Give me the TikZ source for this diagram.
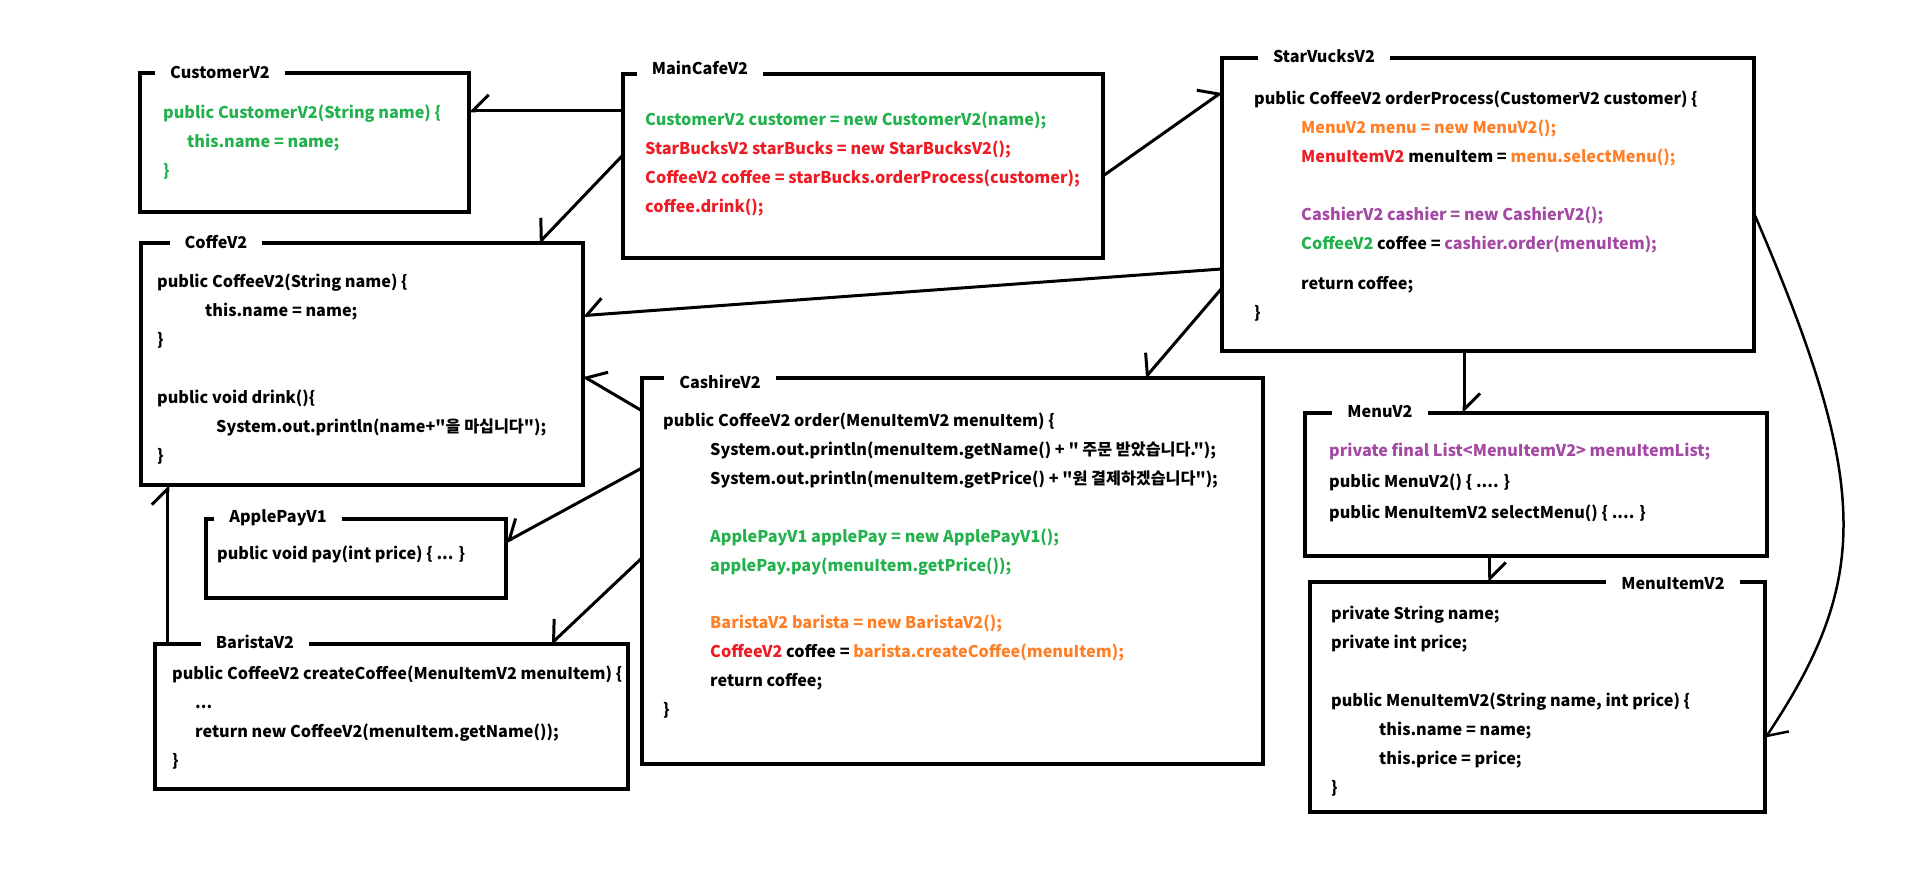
\documentclass[tikz,border=0pt]{standalone}
\usepackage{fontspec}
\setmainfont{Noto Sans CJK KR}[Ligatures=TeXOff]
\usetikzlibrary{arrows.meta,calc}

\definecolor{jgreen}{RGB}{34,177,76}
\definecolor{jred}{RGB}{237,28,36}
\definecolor{jorange}{RGB}{255,127,39}
\definecolor{jpurple}{RGB}{163,73,164}

\newcommand{\ind}[1][47pt]{\hspace*{#1}}
\newcommand{\codefont}{\fontsize{16.2}{29}\selectfont\bfseries}

\begin{document}
\begin{tikzpicture}[x=1pt, y=-1pt]
\tikzstyle{box}=[draw, line width=4.5pt, anchor=north west, inner sep=0pt, outer sep=0pt]
\tikzstyle{title}=[fill=white, inner xsep=15pt, inner ysep=3pt, text height=11pt, text depth=0pt, font=\codefont]
\tikzstyle{code}=[anchor=north west, inner sep=0pt, align=left, font=\codefont]
\tikzstyle{conn}=[line width=3pt, -{Straight Barb[harpoon,swap,length=16pt,width=32pt]}]
\tikzstyle{connl}=[line width=3pt, -{Straight Barb[harpoon,length=16pt,width=32pt]}]

\useasboundingbox (0,0) rectangle (1914,889);

% boxes
\node[box, minimum width=329pt, minimum height=139pt] (customer) at (140,73) {};
\node[box, minimum width=480pt, minimum height=184pt] (maincafe) at (623,74) {};
\node[box, minimum width=532pt, minimum height=293pt] (starvucks) at (1222,58) {};
\node[box, minimum width=442pt, minimum height=242pt] (coffe) at (141,243) {};
\node[box, minimum width=621pt, minimum height=386pt] (cashire) at (642,378) {};
\node[box, minimum width=300pt, minimum height=79pt] (applepay) at (206,519) {};
\node[box, minimum width=473pt, minimum height=145pt] (barista) at (155,644) {};
\node[box, minimum width=462pt, minimum height=143pt] (menu) at (1305,413) {};
\node[box, minimum width=455pt, minimum height=230pt] (menuitem) at (1310,582) {};

% titles
\node[title] (customer-t) at (220,73) {CustomerV2};
\node[title] (maincafe-t) at (700,69) {MainCafeV2};
\node[title] (starvucks-t) at (1324,57) {StarVucksV2};
\node[title] (coffe-t) at (216,243) {CoffeV2};
\node[title] (cashire-t) at (720,383) {CashireV2};
\node[title] (applepay-t) at (278,517) {ApplePayV1};
\node[title] (barista-t) at (255,643) {BaristaV2};
\node[title] (menu-t) at (1380,412) {MenuV2};
\node[title] (menuitem-t) at (1673,584) {MenuItemV2};

% code
\node[code, text=jgreen] (customer-c) at (163,105) {public CustomerV2(String name) \{\\
\ind[24pt]this.name = name;\\
\}};
\node[code] (maincafe-c) at (645,112) {\textcolor{jgreen}{CustomerV2 customer = new CustomerV2(name);}\\
\textcolor{jred}{StarBucksV2 starBucks = new StarBucksV2();}\\
\textcolor{jred}{CoffeeV2 coffee = starBucks.orderProcess(customer);}\\
\textcolor{jred}{coffee.drink();}};
\node[code] (starvucks-c) at (1254,91) {public CoffeeV2 orderProcess(CustomerV2 customer) \{\\
\ind\textcolor{jorange}{MenuV2 menu = new MenuV2();}\\
\ind\textcolor{jred}{MenuItemV2} menuItem = \textcolor{jorange}{menu.selectMenu();}\\[29pt]
\ind\textcolor{jpurple}{CashierV2 cashier = new CashierV2();}\\
\ind\textcolor{jgreen}{CoffeeV2} coffee = \textcolor{jpurple}{cashier.order(menuItem);}\\[11pt]
\ind return coffee;\\
\}};
\node[code] (coffe-c) at (157,274) {public CoffeeV2(String name) \{\\
\ind[48pt]this.name = name;\\
\}\\[29pt]
public void drink()\{\\
\ind[59pt]System.out.println(name+"을 마십니다");\\
\}};
\node[code] (cashire-c) at (663,413) {public CoffeeV2 order(MenuItemV2 menuItem) \{\\
\ind System.out.println(menuItem.getName() + " 주문 받았습니다.");\\
\ind System.out.println(menuItem.getPrice() + "원 결제하겠습니다");\\[29pt]
\ind\textcolor{jgreen}{ApplePayV1 applePay = new ApplePayV1();}\\
\ind\textcolor{jgreen}{applePay.pay(menuItem.getPrice());}\\[28pt]
\ind\textcolor{jorange}{BaristaV2 barista = new BaristaV2();}\\
\ind\textcolor{jred}{CoffeeV2} coffee = \textcolor{jorange}{barista.createCoffee(menuItem);}\\
\ind return coffee;\\
\}};
\node[code] (applepay-c) at (217,546) {public void pay(int price) \{ ... \}};
\node[code] (barista-c) at (172,666) {public CoffeeV2 createCoffee(MenuItemV2 menuItem) \{\\
\ind[23pt]...\\
\ind[23pt]return new CoffeeV2(menuItem.getName());\\
\}};
\node[code] (menu-c) at (1329,443) {\textcolor{jpurple}{private final List<MenuItemV2> menuItemList;}\\[2pt]
public MenuV2() \{ .... \}\\[2pt]
public MenuItemV2 selectMenu() \{ .... \}};
\node[code] (menuitem-c) at (1331,606) {private String name;\\
private int price;\\[29pt]
public MenuItemV2(String name, int price) \{\\
\ind[48pt]this.name = name;\\
\ind[48pt]this.price = price;\\
\}};

% connectors
\draw[conn] ($(maincafe.north west)!.2!(maincafe.south west)$) coordinate (a1) -- (a1 -| customer.east);
\draw[conn] ($(maincafe.north west)!.44!(maincafe.south west)$) -- ($(coffe.north west)!.9!(coffe.north east)$);
\draw[connl] ($(maincafe.north east)!.554!(maincafe.south east)$) -- ($(starvucks.north west)!.116!(starvucks.south west)$);
\draw[conn] ($(starvucks.north west)!.72!(starvucks.south west)$) -- ($(coffe.north east)!.3!(coffe.south east)$);
\draw[conn] ($(starvucks.north west)!.785!(starvucks.south west)$) -- ($(cashire.north west)!.81!(cashire.north east)$);
\draw[conn] ($(cashire.north west)!.085!(cashire.south west)$) -- ($(coffe.north east)!.55!(coffe.south east)$);
\draw[conn] ($(cashire.north west)!.233!(cashire.south west)$) -- ($(applepay.north east)!.29!(applepay.south east)$);
\draw[conn] ($(cashire.north west)!.466!(cashire.south west)$) -- ($(barista.north west)!.837!(barista.north east)$);
\draw[connl] ($(barista.north west)!.027!(barista.north east)$) coordinate (a9) -- (a9 |- coffe.south);
\draw[connl] ($(starvucks.south west)!.455!(starvucks.south east)$) coordinate (a10) -- (a10 |- menu.north);
\draw[connl] ($(menu.south west)!.4!(menu.south east)$) coordinate (a11) -- (a11 |- menuitem.north);
\draw[connl, line width=2.5pt] ($(starvucks.north east)!.53!(starvucks.south east)$) .. controls +(117,271) and +(106,-159) .. ($(menuitem.north east)!.68!(menuitem.south east)$);
\end{tikzpicture}
\end{document}
